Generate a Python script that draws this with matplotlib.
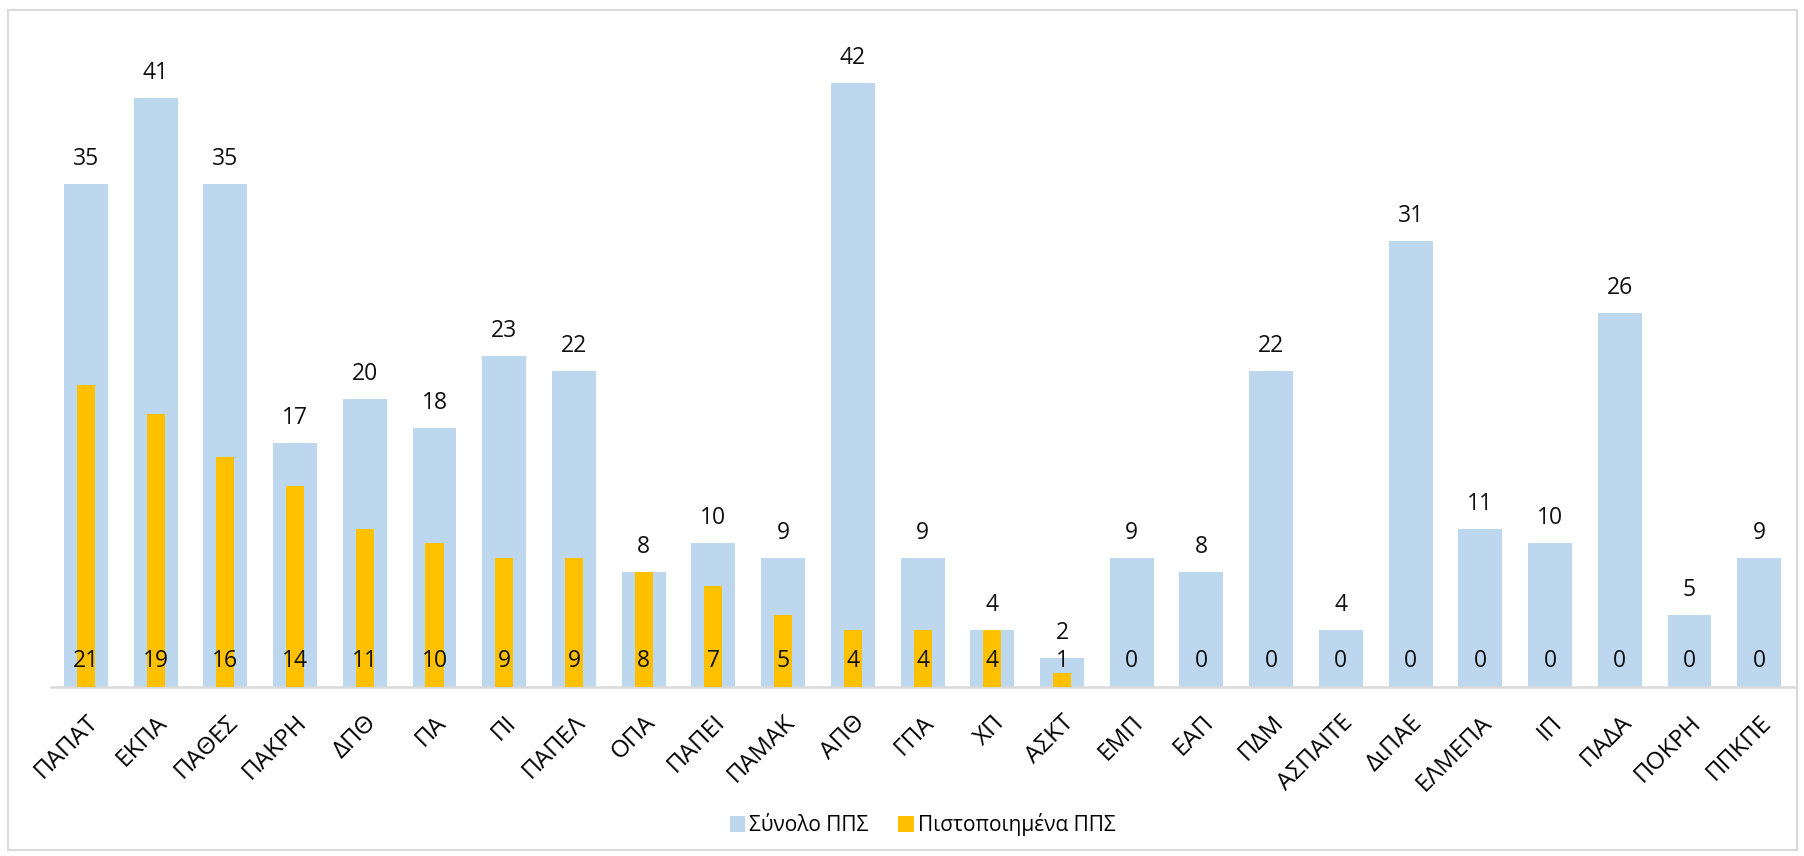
import numpy as np
import matplotlib
matplotlib.use("Agg")
import matplotlib.pyplot as plt
from matplotlib.patches import Rectangle

plt.rcParams['font.family'] = ['Open Sans', 'DejaVu Sans']

# data
institutions = ["ΠΑΠΑΤ", "ΕΚΠΑ", "ΠΑΘΕΣ", "ΠΑΚΡΗ", "ΔΠΘ", "ΠΑ", "ΠΙ", "ΠΑΠΕΛ",
                "ΟΠΑ", "ΠΑΠΕΙ", "ΠΑΜΑΚ", "ΑΠΘ", "ΓΠΑ", "ΧΠ", "ΑΣΚΤ", "ΕΜΠ",
                "ΕΑΠ", "ΠΔΜ", "ΑΣΠΑΙΤΕ", "ΔιΠΑΕ", "ΕΛΜΕΠΑ", "ΙΠ", "ΠΑΔΑ",
                "ΠΟΚΡΗ", "ΠΠΚΠΕ"]
total_pps = [35, 41, 35, 17, 20, 18, 23, 22, 8, 10, 9, 42, 9, 4, 2, 9, 8,
             22, 4, 31, 11, 10, 26, 5, 9]
certified_pps = [21, 19, 16, 14, 11, 10, 9, 9, 8, 7, 5, 4, 4, 4, 1, 0, 0,
                 0, 0, 0, 0, 0, 0, 0, 0]

blue = "#BDD7EE"
orange = "#FFC000"
grid_grey = "#D9D9D9"

fig = plt.figure(figsize=(18.04, 8.56), dpi=100)
ax = fig.add_axes([0.0283, 0.1974, 0.9662, 0.7558])

x = np.arange(len(institutions))
ax.bar(x, total_pps, width=0.63, color=blue, label="Σύνολο ΠΠΣ", zorder=2)
ax.bar(x, certified_pps, width=0.26, color=orange, label="Πιστοποιημένα ΠΠΣ", zorder=3)

# value labels: totals above the bar, certified near the base
for xi, t, c in zip(x, total_pps, certified_pps):
    ax.annotate(str(t), (xi, t), xytext=(0, 18), textcoords="offset points",
                ha="center", va="center", fontsize=16.5, color="#111111")
    ax.annotate(str(c), (xi, 0), xytext=(0, 19), textcoords="offset points",
                ha="center", va="center", fontsize=16.5, color="#111111", zorder=4)

ax.set_xlim(-0.5, len(institutions) - 0.5)
ax.set_ylim(0, 45)
ax.set_yticks([])
ax.set_xticks(x)
ax.set_xticklabels(institutions, rotation=45, ha="right", va="top",
                   rotation_mode="anchor", fontsize=17.5)
ax.tick_params(axis="x", length=0, pad=17)

for side in ["top", "right", "left"]:
    ax.spines[side].set_visible(False)
ax.spines["bottom"].set_color(grid_grey)
ax.spines["bottom"].set_linewidth(1.8)

ax.legend(loc="center", bbox_to_anchor=(0.5, -0.213), ncol=2, frameon=False,
          fontsize=15, handlelength=0.75, handleheight=0.75, handletextpad=0.2,
          columnspacing=1.4)

# outer chart frame
fig.patches.append(Rectangle((8 / 1804, 6 / 856), 1789 / 1804, 840 / 856,
                             transform=fig.transFigure, fill=False,
                             edgecolor=grid_grey, linewidth=1.5))

fig.savefig("out.png", dpi=100)
